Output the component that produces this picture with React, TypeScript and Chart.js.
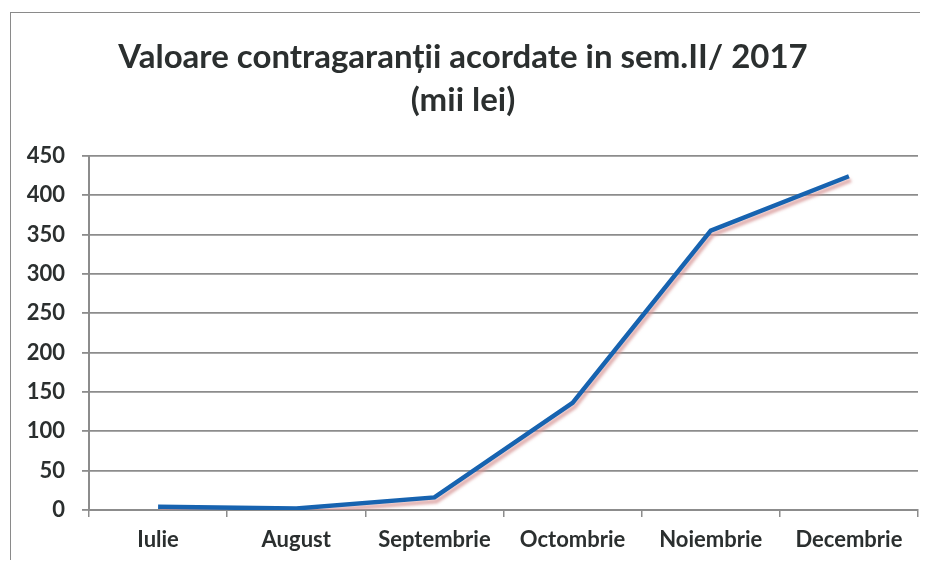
import React, { useEffect, useRef } from "react";
import { Chart, registerables } from "chart.js";

Chart.register(...registerables);

const months = ["Iulie", "August", "Septembrie", "Octombrie", "Noiembrie", "Decembrie"];
const values = [4, 2, 16, 136, 355, 424];
const titleLines = ["Valoare contragaranții acordate in sem.II/ 2017", "(mii lei)"];
const yMin = 0;
const yMax = 450;
const yStep = 50;

const shadowPlugin = {
  id: "lineShadow",
  beforeDatasetDraw(chart: any) {
    const ctx = chart.ctx;
    ctx.save();
    ctx.shadowColor = "rgba(215,150,150,0.75)";
    ctx.shadowOffsetX = 2;
    ctx.shadowOffsetY = 4;
    ctx.shadowBlur = 3;
  },
  afterDatasetDraw(chart: any) {
    chart.ctx.restore();
  },
};

export default function App() {
  const ref = useRef<HTMLCanvasElement | null>(null);
  useEffect(() => {
    document.documentElement.style.overflow = "hidden";
    document.body.style.overflow = "hidden";
    if (!ref.current) return;
    const gridColor = "#8c8c8c";
    const chart = new Chart(ref.current, {
      type: "line",
      data: {
        labels: months,
        datasets: [
          {
            data: values,
            borderColor: "#1763b0",
            borderWidth: 4.5,
            pointRadius: 0,
            tension: 0,
            fill: false,
          },
        ],
      },
      options: {
        animation: false,
        responsive: false,
        maintainAspectRatio: false,
        layout: { padding: { left: 0, right: 10, top: 0, bottom: 8 } },
        plugins: {
          legend: { display: false },
          tooltip: { enabled: false },
          title: {
            display: true,
            text: titleLines,
            color: "#2b2f2f",
            font: { family: "Lato", size: 33, weight: "bold", lineHeight: 1.3 },
            padding: { top: 28, bottom: 34 },
          },
        },
        scales: {
          x: {
            offset: true,
            afterFit(scale: any) {
              scale.height = 50;
            },
            grid: {
              offset: true,
              drawOnChartArea: false,
              drawTicks: true,
              tickLength: 7,
              color: gridColor,
              lineWidth: 1.5,
            },
            border: { display: true, color: gridColor, width: 2 },
            ticks: {
              color: "#2b2f2f",
              font: { family: "Lato", size: 22, weight: "bold" },
              padding: 10,
              maxRotation: 0,
              autoSkip: false,
            },
          },
          y: {
            min: yMin,
            max: yMax,
            afterFit(scale: any) {
              scale.width = 81;
            },
            grid: {
              color: gridColor,
              lineWidth: 1.8,
              tickLength: 7,
              drawTicks: true,
            },
            border: { display: true, color: gridColor, width: 2 },
            ticks: {
              stepSize: yStep,
              color: "#2b2f2f",
              font: { family: "Lato", size: 22, weight: "bold" },
              padding: 17,
            },
          },
        },
      },
      plugins: [shadowPlugin],
    });
    return () => chart.destroy();
  }, []);

  return (
    <div style={{ position: "relative", width: 920, height: 552, overflow: "hidden", background: "#fff" }}>
      <div
        style={{
          position: "absolute",
          left: 2,
          top: 4,
          width: 918,
          height: 548,
          borderTop: "1px solid #8a8a8a",
          borderLeft: "1px solid #8a8a8a",
          boxSizing: "border-box",
        }}
      />
      <canvas ref={ref} width={920} height={560} style={{ position: "absolute", left: 0, top: 0 }} />
    </div>
  );
}
